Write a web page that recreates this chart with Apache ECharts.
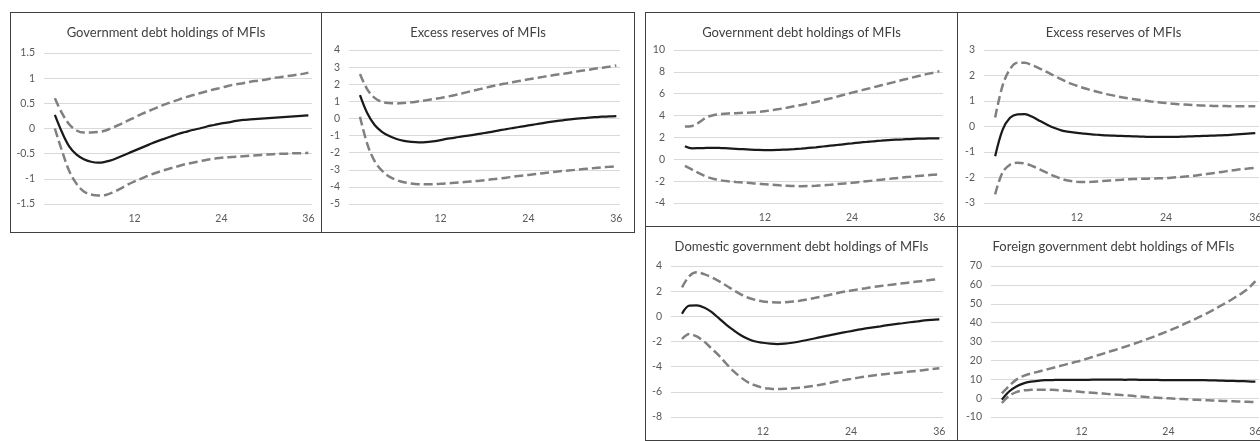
<!DOCTYPE html>
<html>
<head>
<meta charset="utf-8">
<script src="https://cdn.jsdelivr.net/npm/echarts@6/dist/echarts.min.js"></script>
<style>
  html, body { margin: 0; padding: 0; background: #ffffff; }
  body { width: 1260px; height: 441px; position: relative; overflow: hidden; }
  .panel { position: absolute; box-sizing: border-box; border: 1px solid #404040; background: #fff; }
  .chart { position: absolute; left: 0; top: 0; width: 100%; height: 100%; }
</style>
</head>
<body>
<div id="root"></div>
<script>
// Horizon in months (category 0 is left empty, responses start at month 1)
const horizon = [0, 1, 2, 3, 4, 5, 6, 7, 8, 9, 10, 11, 12, 13, 14, 15, 16, 17, 18,
  19, 20, 21, 22, 23, 24, 25, 26, 27, 28, 29, 30, 31, 32, 33, 34, 35, 36];

// Panel titles
const titles = [
  'Government debt holdings of MFIs',
  'Excess reserves of MFIs',
  'Government debt holdings of MFIs',
  'Excess reserves of MFIs',
  'Domestic government debt holdings of MFIs',
  'Foreign government debt holdings of MFIs'
];

// Y-axis ranges: [min, max, step]
const yRanges = [
  [-1.5, 1.5, 0.5],
  [-5, 4, 1],
  [-4, 10, 2],
  [-3, 3, 1],
  [-8, 4, 2],
  [-10, 70, 10]
];

// Government debt holdings of MFIs (first model)
const govA_mid = [0.27, -0.08, -0.36, -0.52, -0.61, -0.66, -0.68, -0.66, -0.62, -0.56, -0.50, -0.44,
  -0.38, -0.32, -0.26, -0.21, -0.16, -0.11, -0.07, -0.03, 0.00, 0.04, 0.07, 0.10,
  0.12, 0.15, 0.17, 0.18, 0.19, 0.20, 0.21, 0.22, 0.23, 0.24, 0.25, 0.26];
const govA_up = [0.60, 0.30, 0.08, -0.04, -0.08, -0.08, -0.07, -0.04, 0.02, 0.08, 0.15, 0.22,
  0.29, 0.35, 0.41, 0.47, 0.52, 0.57, 0.62, 0.66, 0.70, 0.74, 0.78, 0.81,
  0.85, 0.88, 0.90, 0.93, 0.95, 0.97, 1.00, 1.02, 1.04, 1.06, 1.08, 1.11];
const govA_lo = [0.00, -0.45, -0.85, -1.10, -1.25, -1.31, -1.33, -1.32, -1.27, -1.20, -1.12, -1.05,
  -0.99, -0.93, -0.88, -0.83, -0.79, -0.75, -0.71, -0.68, -0.65, -0.62, -0.60, -0.58,
  -0.57, -0.56, -0.55, -0.54, -0.53, -0.52, -0.51, -0.50, -0.50, -0.49, -0.49, -0.48];

// Excess reserves of MFIs (first model)
const resA_mid = [1.36, 0.30, -0.38, -0.78, -1.03, -1.20, -1.31, -1.37, -1.40, -1.39, -1.34, -1.27,
  -1.18, -1.12, -1.05, -0.99, -0.92, -0.85, -0.78, -0.70, -0.62, -0.55, -0.48, -0.41,
  -0.34, -0.27, -0.20, -0.14, -0.09, -0.04, 0.00, 0.04, 0.07, 0.10, 0.12, 0.14];
const resA_up = [2.60, 1.70, 1.20, 0.97, 0.90, 0.88, 0.90, 0.94, 1.00, 1.06, 1.13, 1.20,
  1.28, 1.37, 1.47, 1.58, 1.68, 1.78, 1.88, 1.97, 2.05, 2.13, 2.21, 2.29,
  2.36, 2.43, 2.50, 2.57, 2.63, 2.70, 2.77, 2.83, 2.90, 2.96, 3.02, 3.10];
const resA_lo = [0.10, -1.50, -2.50, -3.05, -3.40, -3.60, -3.73, -3.80, -3.84, -3.85, -3.84, -3.82,
  -3.79, -3.76, -3.73, -3.69, -3.65, -3.61, -3.56, -3.51, -3.46, -3.40, -3.35, -3.30,
  -3.25, -3.20, -3.15, -3.10, -3.06, -3.02, -2.98, -2.94, -2.90, -2.86, -2.83, -2.80];

// Government debt holdings of MFIs (second model)
const govB_mid = [1.20, 1.00, 1.02, 1.04, 1.05, 1.03, 1.00, 0.96, 0.92, 0.88, 0.85, 0.84,
  0.84, 0.86, 0.89, 0.93, 0.98, 1.04, 1.10, 1.17, 1.24, 1.31, 1.39, 1.46,
  1.53, 1.59, 1.65, 1.70, 1.75, 1.79, 1.82, 1.85, 1.88, 1.90, 1.91, 1.92];
const govB_up = [3.00, 3.05, 3.40, 3.85, 4.05, 4.15, 4.20, 4.22, 4.25, 4.28, 4.32, 4.40,
  4.50, 4.60, 4.72, 4.85, 4.97, 5.10, 5.25, 5.40, 5.57, 5.74, 5.92, 6.10,
  6.27, 6.43, 6.60, 6.77, 6.93, 7.10, 7.27, 7.43, 7.60, 7.76, 7.90, 8.05];
const govB_lo = [-0.60, -0.95, -1.30, -1.60, -1.80, -1.93, -2.02, -2.08, -2.13, -2.18, -2.23, -2.28,
  -2.33, -2.38, -2.42, -2.45, -2.46, -2.45, -2.42, -2.38, -2.33, -2.27, -2.21, -2.15,
  -2.08, -2.01, -1.94, -1.87, -1.80, -1.73, -1.66, -1.60, -1.54, -1.48, -1.42, -1.38];

// Excess reserves of MFIs (second model)
const resB_mid = [-1.17, -0.13, 0.34, 0.48, 0.49, 0.38, 0.22, 0.07, -0.06, -0.16, -0.21, -0.25,
  -0.28, -0.31, -0.33, -0.35, -0.36, -0.37, -0.38, -0.39, -0.40, -0.41, -0.41, -0.41,
  -0.41, -0.40, -0.39, -0.38, -0.37, -0.36, -0.35, -0.34, -0.32, -0.30, -0.28, -0.26];
const resB_up = [0.35, 1.60, 2.25, 2.50, 2.50, 2.40, 2.27, 2.13, 1.98, 1.84, 1.70, 1.60,
  1.50, 1.42, 1.34, 1.27, 1.21, 1.15, 1.10, 1.06, 1.02, 0.98, 0.95, 0.92,
  0.89, 0.87, 0.85, 0.83, 0.82, 0.81, 0.80, 0.80, 0.79, 0.79, 0.79, 0.79];
const resB_lo = [-2.66, -1.80, -1.50, -1.42, -1.45, -1.55, -1.68, -1.82, -1.95, -2.06, -2.13, -2.17,
  -2.18, -2.17, -2.15, -2.13, -2.11, -2.09, -2.07, -2.06, -2.05, -2.04, -2.03, -2.02,
  -2.00, -1.98, -1.95, -1.92, -1.88, -1.84, -1.80, -1.76, -1.72, -1.68, -1.65, -1.62];

// Domestic government debt holdings of MFIs
const domB_mid = [0.21, 0.85, 0.87, 0.70, 0.35, -0.15, -0.65, -1.10, -1.50, -1.80, -2.00, -2.10,
  -2.17, -2.20, -2.17, -2.10, -2.00, -1.88, -1.76, -1.64, -1.52, -1.40, -1.28, -1.17,
  -1.06, -0.96, -0.87, -0.79, -0.70, -0.62, -0.55, -0.47, -0.40, -0.33, -0.28, -0.24];
const domB_up = [2.30, 3.20, 3.50, 3.35, 3.10, 2.80, 2.45, 2.08, 1.75, 1.48, 1.30, 1.18,
  1.12, 1.10, 1.12, 1.17, 1.24, 1.34, 1.45, 1.57, 1.70, 1.83, 1.95, 2.05,
  2.15, 2.24, 2.33, 2.41, 2.48, 2.55, 2.62, 2.69, 2.76, 2.83, 2.90, 2.97];
const domB_lo = [-1.80, -1.40, -1.60, -2.00, -2.55, -3.10, -3.75, -4.35, -4.85, -5.25, -5.50, -5.68,
  -5.75, -5.78, -5.76, -5.72, -5.67, -5.60, -5.52, -5.42, -5.30, -5.18, -5.07, -4.97,
  -4.87, -4.78, -4.70, -4.63, -4.57, -4.51, -4.45, -4.39, -4.33, -4.26, -4.19, -4.12];

// Foreign government debt holdings of MFIs
const forB_mid = [-0.80, 3.50, 6.20, 7.80, 8.70, 9.20, 9.50, 9.60, 9.70, 9.70, 9.70, 9.70,
  9.70, 9.80, 9.80, 9.80, 9.80, 9.70, 9.80, 9.70, 9.70, 9.70, 9.60, 9.60,
  9.60, 9.60, 9.60, 9.50, 9.50, 9.40, 9.30, 9.20, 9.10, 9.00, 8.90, 8.70];
const forB_up = [2.50, 6.50, 9.80, 11.80, 13.00, 14.00, 15.00, 16.00, 17.00, 18.00, 19.00, 20.00,
  21.20, 22.40, 23.60, 24.80, 26.00, 27.20, 28.50, 29.80, 31.20, 32.60, 34.10, 35.60,
  37.20, 38.90, 40.70, 42.50, 44.40, 46.40, 48.50, 50.60, 52.90, 55.30, 58.00, 62.00];
const forB_lo = [-2.60, 1.20, 3.20, 4.10, 4.40, 4.50, 4.50, 4.40, 4.20, 3.90, 3.60, 3.30,
  3.00, 2.70, 2.40, 2.10, 1.80, 1.50, 1.20, 0.90, 0.60, 0.35, 0.10, -0.10,
  -0.30, -0.50, -0.70, -0.90, -1.10, -1.25, -1.40, -1.55, -1.70, -1.85, -1.95, -2.10];

const panelData = [
  [govA_up, govA_lo, govA_mid],
  [resA_up, resA_lo, resA_mid],
  [govB_up, govB_lo, govB_mid],
  [resB_up, resB_lo, resB_mid],
  [domB_up, domB_lo, domB_mid],
  [forB_up, forB_lo, forB_mid]
];

// Panel boxes and plot-area insets (pixels)
const boxes = [
  { x: 10, y: 12, w: 312, h: 221, g: [33, 9, 40, 28] },
  { x: 321, y: 12, w: 314, h: 221, g: [27, 14, 37, 28] },
  { x: 645, y: 12, w: 313, h: 215, g: [28, 14, 37, 23] },
  { x: 957, y: 12, w: 313, h: 215, g: [26, 10, 37, 23] },
  { x: 645, y: 226, w: 313, h: 215, g: [25, 14, 39, 23] },
  { x: 957, y: 226, w: 313, h: 215, g: [33, 10, 39, 23] }
];

const FONT = 'Lato, "Open Sans", sans-serif';
const root = document.getElementById('root');

boxes.forEach((b, i) => {
  const div = document.createElement('div');
  div.className = 'panel';
  div.style.left = b.x + 'px';
  div.style.top = b.y + 'px';
  div.style.width = b.w + 'px';
  div.style.height = b.h + 'px';
  const inner = document.createElement('div');
  inner.className = 'chart';
  div.appendChild(inner);
  root.appendChild(div);

  const [up, lo, mid] = panelData[i];
  const [ymin, ymax, ystep] = yRanges[i];
  const pad = v => [null].concat(v);

  const chart = echarts.init(inner, null, { renderer: 'canvas' });
  chart.setOption({
    animation: false,
    title: {
      text: titles[i],
      left: 'center',
      top: 8,
      textStyle: { fontFamily: FONT, fontSize: 13, fontWeight: 'normal', color: '#404040' }
    },
    grid: { left: b.g[0], right: b.g[1], top: b.g[2], bottom: b.g[3], containLabel: false },
    xAxis: {
      type: 'category',
      data: horizon,
      boundaryGap: true,
      axisLine: { show: false },
      axisTick: { show: false },
      splitLine: { show: false },
      axisLabel: {
        interval: (idx) => idx > 0 && idx % 12 === 0,
        margin: 9,
        fontFamily: FONT, fontSize: 10.5, color: '#595959'
      }
    },
    yAxis: {
      type: 'value',
      min: ymin, max: ymax, interval: ystep,
      axisLine: { show: false },
      axisTick: { show: false },
      splitLine: { lineStyle: { color: '#d9d9d9', width: 1 } },
      axisLabel: { margin: 9, fontFamily: FONT, fontSize: 10.5, color: '#595959' }
    },
    series: [
      { type: 'line', data: pad(up), smooth: 0.35, symbol: 'none',
        lineStyle: { color: '#808080', width: 2.5, type: [9, 4] } },
      { type: 'line', data: pad(lo), smooth: 0.35, symbol: 'none',
        lineStyle: { color: '#808080', width: 2.5, type: [9, 4] } },
      { type: 'line', data: pad(mid), smooth: 0.35, symbol: 'none',
        lineStyle: { color: '#1a1a1a', width: 2.25 } }
    ]
  });
});
</script>
</body>
</html>
